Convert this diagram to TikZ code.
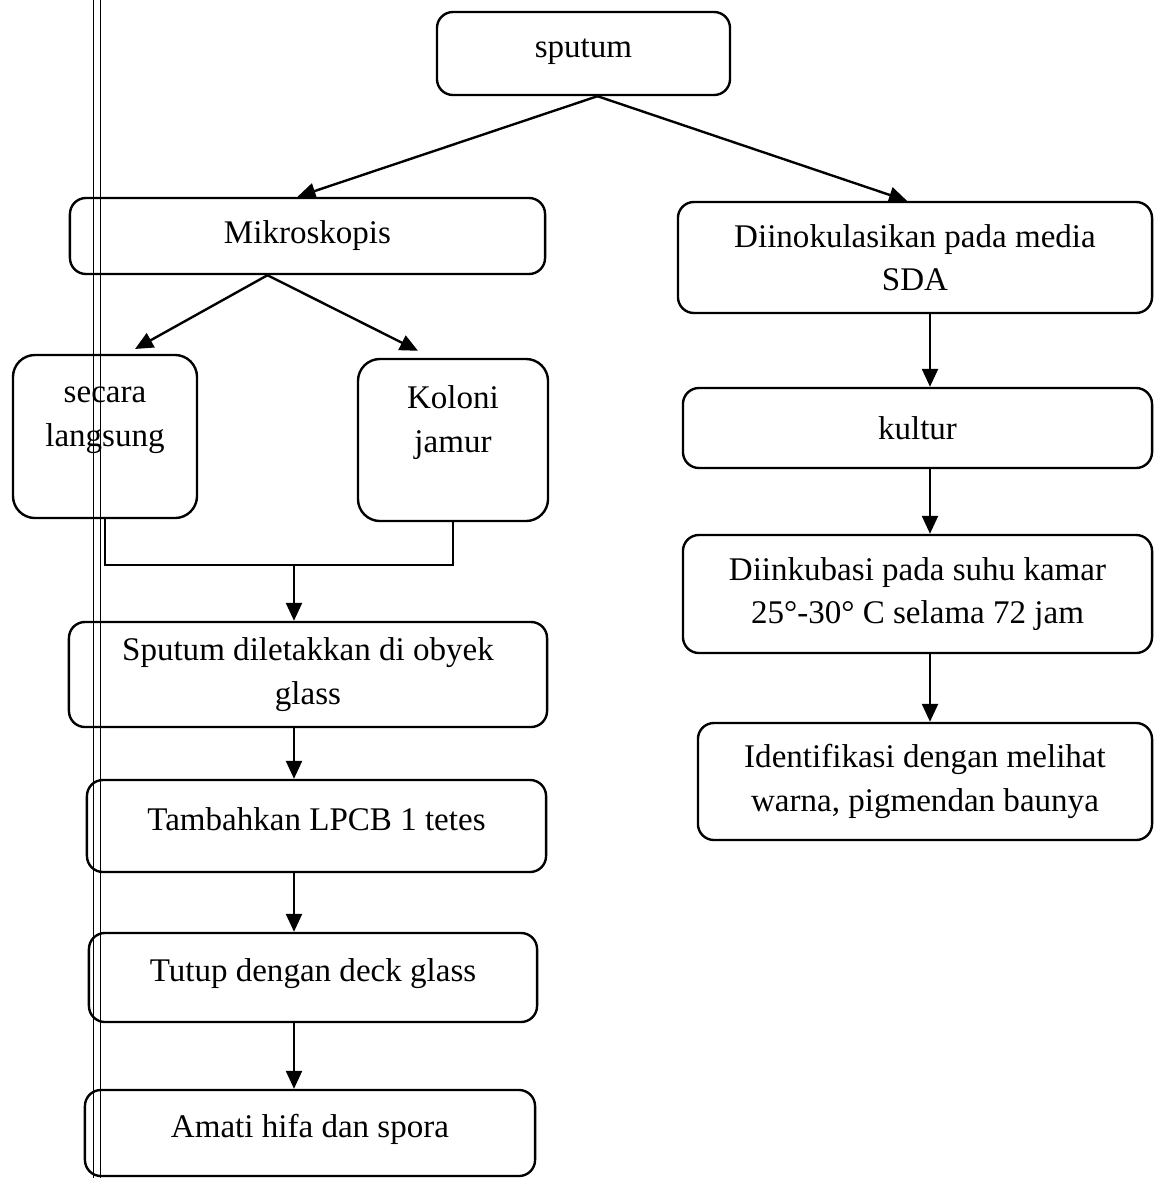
\documentclass[tikz,border=0pt]{standalone}
\usepackage{fontspec}
\setmainfont{Liberation Serif}
\usetikzlibrary{arrows.meta,positioning}

\begin{document}
\begin{tikzpicture}[x=0.025cm, y=-0.025cm, line width=1.7pt,
    box/.style={draw, rounded corners=0.4cm, align=center, inner sep=0pt,
      font=\fontsize{23.5pt}{31pt}\selectfont},
    lift/.style={text height=0.5cm, text depth=0.3cm},
    tallbox/.style={draw, rounded corners=0.55cm, inner sep=0pt},
    boxtext/.style={align=center, inner sep=0pt, font=\fontsize{23.5pt}{31pt}\selectfont},
    arr/.style={-{Triangle[length=0.45cm, width=0.4cm]}}]
      \useasboundingbox (0,0) rectangle (1158,1178);
      % left margin rule of the scanned page
      \draw[line width=0.7pt] (93,0) -- (93,1178);
      \draw[line width=0.7pt] (100,0) -- (100,1178);

      \node[box, lift, minimum width=7.325cm, minimum height=2.075cm] (sputum) at (583.5,53.5) {sputum};
      \node[box, minimum width=11.875cm, minimum height=1.9cm] (mikro) at (307.5,236) {Mikroskopis};
      \node[box, minimum width=11.85cm, minimum height=2.775cm] (inok) at (915,257.5) {Diinokulasikan pada media\\SDA};

      \node[tallbox, minimum width=4.6cm, minimum height=4.075cm] (secara) at (105,436.5) {};
      \node[boxtext, below=0.8cm of secara.north] (secaratxt) {secara\\langsung};
      \node[tallbox, minimum width=4.75cm, minimum height=4.05cm] (koloni) at (453,440) {};
      \node[boxtext, below=0.675cm of koloni.north] (kolonitxt) {Koloni\\jamur};

      \node[box, minimum width=11.725cm, minimum height=2cm] (kultur) at (917.5,428) {kultur};
      \node[box, minimum width=11.725cm, minimum height=2.95cm] (inkub) at (917.5,594) {Diinkubasi pada suhu kamar\\25°-30° C selama 72 jam};
      \node[box, minimum width=11.35cm, minimum height=2.925cm] (ident) at (925,781.5) {Identifikasi dengan melihat\\warna, pigmendan baunya};

      \node[box, minimum width=11.95cm, minimum height=2.625cm] (letak) at (308,674.5) {Sputum diletakkan di obyek\\glass};
      \node[box, lift, minimum width=11.475cm, minimum height=2.3cm] (tambah) at (316.5,826) {Tambahkan LPCB 1 tetes};
      \node[box, lift, minimum width=11.2cm, minimum height=2.225cm] (tutup) at (313,977.5) {Tutup dengan deck glass};
      \node[box, lift, minimum width=11.25cm, minimum height=2.15cm] (amati) at (310,1133) {Amati hifa dan spora};

      \coordinate (join) at (294,565);
      \coordinate (rcol) at (930,0);

      % branches
      \draw[arr] ([xshift=0.35cm]sputum.south) -- ([xshift=-0.25cm]mikro.north);
      \draw[arr] ([xshift=0.35cm]sputum.south) -- ([xshift=-0.2cm]inok.north);
      \draw[arr] ([xshift=-1cm]mikro.south) -- ([xshift=0.75cm, yshift=0.12cm]secara.north);
      \draw[arr] ([xshift=-1cm]mikro.south) -- ([xshift=-0.875cm, yshift=0.175cm]koloni.north);

      \draw (secara.south) |- (join) -| (koloni.south);
      \draw[arr] (join) -- (join |- letak.north);
      \draw[arr] (letak.south -| join) -- (tambah.north -| join);
      \draw[arr] (tambah.south -| join) -- (tutup.north -| join);
      \draw[arr] (tutup.south -| join) -- (amati.north -| join);

      \draw[arr] (inok.south -| rcol) -- (kultur.north -| rcol);
      \draw[arr] (kultur.south -| rcol) -- (inkub.north -| rcol);
      \draw[arr] (inkub.south -| rcol) -- (ident.north -| rcol);
\end{tikzpicture}
\end{document}
